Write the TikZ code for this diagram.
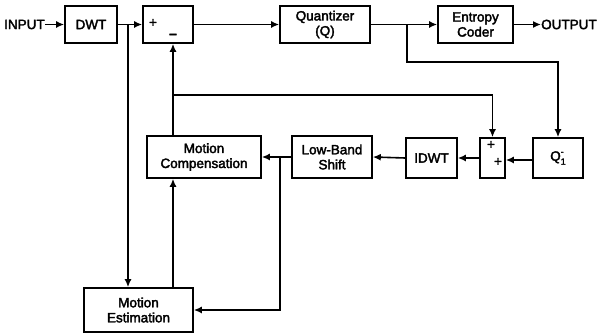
\documentclass[tikz,border=0pt]{standalone}
\usepackage{fontspec}
\setmainfont[FakeBold=2.5]{Liberation Sans}
\usetikzlibrary{arrows.meta,calc}
\begin{document}
\begin{tikzpicture}[x=1pt,y=-1pt,
  every node/.style={font=\fontsize{13.5}{15}\selectfont, inner sep=0pt, align=center},
  blk/.style={draw, line width=1.6pt, minimum width=#1, anchor=center},
  blk/.default=50pt,
  conn/.style={line width=1.6pt, -{Latex[length=8pt,width=7pt]}},
  wire/.style={line width=1.6pt}]
\useasboundingbox (0,0) rectangle (600,336);
\node[blk=52pt, minimum height=37pt] (dwt) at (91,24.5) {DWT};
\node[blk=50pt, minimum height=37pt] (sub) at (168,24.5) {};
\node at (153,23) (sp) {+};
\node at (173,36) (sm) {\bfseries --};
\node[blk=90pt, minimum height=37pt] (qz) at (325,24.5) {Quantizer\\(Q)};
\node[blk=75pt, minimum height=37pt] (ec) at (475.5,24.5) {Entropy\\Coder};
\node[anchor=west] (in) at (4,24.5) {INPUT};
\node[anchor=west] (out) at (541,24.5) {OUTPUT};
\node[blk=50pt, minimum height=40pt] (qi) at (558,158) {Q\makebox[0pt][l]{\raisebox{6pt}{\fontsize{9}{9}\selectfont -}}\raisebox{-4pt}{\fontsize{9}{9}\selectfont 1}};
\node[blk=25pt, minimum height=40pt] (add) at (492.5,158) {};
\node at (491,145) (ap1) {+};
\node at (498,162) (ap2) {+};
\node[blk=51pt, minimum height=40pt] (idwt) at (431.5,158) {IDWT};
\node[blk=80pt, minimum height=42pt] (lbs) at (332,157) {Low-Band\\Shift};
\node[blk=114pt, minimum height=42pt] (mc) at (204,157) {Motion\\Compensation};
\node[blk=109pt, minimum height=44pt] (me) at (138.5,310) {Motion\\Estimation};
\coordinate (b1) at (128,24.5);
\coordinate (b2) at (407,24.5);
\coordinate (b3) at (280,157);
\coordinate (b4) at (173,95);
% top row
\draw[conn] (in.east) -- (dwt.west);
\draw[conn] (dwt.east) -- (sub.west);
\draw[conn] (b1) -- (b1 |- me.north);
\draw[conn] (sub.east) -- (qz.west);
\draw[conn] (qz.east) -- (ec.west);
\draw[conn] (ec.east) -- (out.west);
\draw[conn] (b2) |- (558,62) -- (qi.north);
% lower row
\draw[conn] (qi.west |- 0,160) -- (add.east |- 0,160);
\draw[conn] (add.west) -- (idwt.east);
\draw[conn] (idwt.west) -- (lbs.east);
\draw[conn] (lbs.west) -- (mc.east);
\draw[conn] (b3) |- (me.east |- 0,310);
\draw[conn] (me.north -| 173,0) -- (mc.south -| 173,0);
\draw[conn] (mc.north -| b4) -- (sub.south -| b4);
\draw[conn] (b4) -| (add.north);
\end{tikzpicture}
\end{document}
